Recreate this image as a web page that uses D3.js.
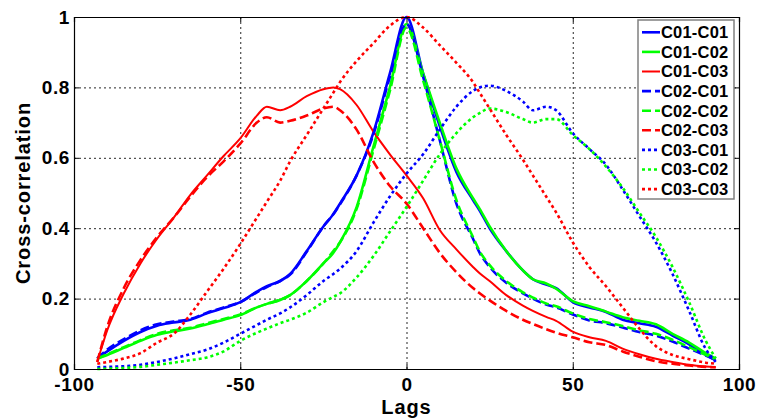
<html>
<head><meta charset="utf-8">
<script src="https://d3js.org/d3.v7.min.js"></script>
</head>
<body style="margin:0;background:#fff">
<style>
  body { font-family: "Liberation Sans", Arial, sans-serif; }
  .tick text { font-weight: bold; font-size: 19px; letter-spacing: 0.6px; fill: #000; }
  .grid line { stroke: #000; stroke-dasharray: 2,3; stroke-opacity: 0.85; }
  .grid path { display: none; }
</style>
<svg width="760" height="420"></svg>
<script>
// lag positions (shared by all series)
var lags = [-93,-90,-85,-80,-75,-70,-65,-60,-55,-50,-45,-42,-38,-35,-30,-25,-22,-20,-15,-10,-5,0,
            5,10,15,20,22,25,30,35,38,42,45,50,55,60,65,70,75,80,85,90,93];

var c01c01 = [0.03,0.05,0.08,0.105,0.123,0.132,0.14,0.158,0.173,0.19,0.22,0.235,0.25,0.27,0.335,0.405,0.44,0.47,0.55,0.67,0.84,1.0,
              0.84,0.69,0.56,0.48,0.45,0.40,0.335,0.28,0.255,0.24,0.23,0.19,0.175,0.162,0.14,0.13,0.12,0.095,0.07,0.04,0.025];
var c01c02 = [0.03,0.04,0.06,0.08,0.097,0.107,0.115,0.127,0.14,0.153,0.175,0.185,0.196,0.21,0.25,0.30,0.33,0.36,0.46,0.63,0.80,0.98,
              0.84,0.70,0.57,0.485,0.455,0.405,0.335,0.28,0.255,0.243,0.228,0.193,0.178,0.163,0.147,0.137,0.127,0.10,0.075,0.045,0.03];
var c01c03 = [0.02,0.11,0.215,0.30,0.37,0.43,0.495,0.55,0.605,0.655,0.72,0.745,0.735,0.745,0.775,0.795,0.80,0.795,0.75,0.675,0.61,0.55,
              0.485,0.395,0.34,0.29,0.272,0.25,0.21,0.18,0.165,0.148,0.137,0.106,0.09,0.08,0.058,0.042,0.029,0.02,0.012,0.007,0.005];
var c02c01 = [0.03,0.055,0.085,0.11,0.127,0.135,0.142,0.16,0.175,0.19,0.218,0.233,0.25,0.268,0.333,0.405,0.44,0.468,0.55,0.665,0.83,0.98,
              0.83,0.65,0.47,0.37,0.33,0.29,0.245,0.215,0.20,0.183,0.175,0.155,0.138,0.13,0.118,0.105,0.095,0.078,0.058,0.038,0.025];
var c02c02 = [0.03,0.042,0.062,0.082,0.10,0.11,0.117,0.13,0.142,0.155,0.175,0.185,0.197,0.21,0.25,0.30,0.335,0.36,0.455,0.62,0.79,0.97,
              0.82,0.65,0.48,0.375,0.335,0.295,0.25,0.218,0.203,0.186,0.178,0.158,0.142,0.133,0.122,0.11,0.10,0.083,0.062,0.04,0.028];
var c02c03 = [0.02,0.12,0.23,0.31,0.375,0.43,0.49,0.545,0.59,0.64,0.70,0.715,0.70,0.705,0.72,0.74,0.745,0.735,0.68,0.59,0.52,0.47,
              0.40,0.33,0.275,0.23,0.215,0.195,0.165,0.14,0.128,0.113,0.103,0.09,0.076,0.068,0.05,0.035,0.022,0.015,0.01,0.006,0.005];
var c03c01 = [0.005,0.006,0.008,0.012,0.02,0.03,0.042,0.055,0.075,0.10,0.125,0.14,0.158,0.175,0.21,0.25,0.27,0.285,0.335,0.415,0.49,0.555,
              0.61,0.68,0.745,0.79,0.80,0.805,0.79,0.76,0.735,0.745,0.735,0.67,0.625,0.58,0.51,0.435,0.36,0.27,0.165,0.057,0.02];
var c03c02 = [0.0,0.001,0.003,0.006,0.012,0.018,0.025,0.033,0.05,0.08,0.103,0.115,0.13,0.14,0.16,0.19,0.205,0.215,0.26,0.32,0.39,0.46,
              0.535,0.61,0.67,0.715,0.727,0.74,0.73,0.71,0.70,0.71,0.71,0.665,0.625,0.575,0.515,0.445,0.375,0.29,0.19,0.08,0.03];
var c03c03 = [0.015,0.02,0.03,0.045,0.075,0.10,0.155,0.22,0.285,0.355,0.43,0.475,0.535,0.59,0.665,0.74,0.785,0.815,0.875,0.925,0.975,1.0,
              0.97,0.92,0.87,0.815,0.785,0.74,0.665,0.595,0.55,0.49,0.445,0.36,0.29,0.235,0.175,0.115,0.065,0.04,0.028,0.018,0.015];

var names = ["C01-C01","C01-C02","C01-C03","C02-C01","C02-C02","C02-C03","C03-C01","C03-C02","C03-C03"];
var values = [c01c01,c01c02,c01c03,c02c01,c02c02,c02c03,c03c01,c03c02,c03c03];
var xTicks = [-100,-50,0,50,100];
var yTicks = [0,0.2,0.4,0.6,0.8,1];

var colors = ["#0000ff","#00ff00","#ff0000"];
var dashes = [null, "9,4", "3,3"];

var mLeft = 74, mRight = 739, mTop = 17, mBottom = 369;

var svg = d3.select("svg");

var x = d3.scaleLinear().domain([-100,100]).range([mLeft,mRight]);
var y = d3.scaleLinear().domain([0,1]).range([mBottom,mTop]);

// grid
svg.append("g").attr("class","grid")
    .attr("transform","translate(0," + mBottom + ")")
    .call(d3.axisBottom(x).tickValues([-50,0,50]).tickSize(-(mBottom-mTop)).tickFormat(""));
svg.append("g").attr("class","grid")
    .attr("transform","translate(" + mLeft + ",0)")
    .call(d3.axisLeft(y).tickValues([0.2,0.4,0.6,0.8]).tickSize(-(mRight-mLeft)).tickFormat(""));

// lines
var line = d3.line()
    .x(function(d) { return x(d[0]); })
    .y(function(d) { return y(d[1]); })
    .curve(d3.curveMonotoneX);

values.forEach(function(v, i) {
    svg.append("path")
        .datum(lags.map(function(l, j) { return [l, v[j]]; }))
        .attr("fill","none")
        .attr("stroke", colors[i % 3])
        .attr("stroke-width", i == 2 ? 2 : 2.6)
        .attr("stroke-dasharray", dashes[Math.floor(i / 3)])
        .attr("d", line);
});

// axes box with inner ticks
svg.append("g").attr("transform","translate(0," + mBottom + ")")
    .call(d3.axisBottom(x).tickValues(xTicks).tickSize(-5).tickPadding(9).tickFormat(function(d) { return String(d); }));
svg.append("g").attr("transform","translate(" + mLeft + ",0)")
    .call(d3.axisLeft(y).tickValues(yTicks).tickSize(-5).tickPadding(4).tickFormat(function(d) { return String(d); }));
svg.append("g").attr("transform","translate(0," + mTop + ")")
    .call(d3.axisTop(x).tickValues(xTicks).tickSize(-5).tickFormat(""));
svg.append("g").attr("transform","translate(" + mRight + ",0)")
    .call(d3.axisRight(y).tickValues(yTicks).tickSize(-5).tickFormat(""));
svg.selectAll(".domain").attr("stroke","#000").attr("stroke-width",1.2);

// axis labels
svg.append("text").attr("x", (mLeft+mRight)/2).attr("y", 414)
    .attr("text-anchor","middle").style("font-weight","bold").style("font-size","20px")
    .style("letter-spacing","0.9px").text("Lags");
svg.append("text").attr("transform","translate(30," + ((mTop+mBottom)/2) + ") rotate(-90)")
    .attr("text-anchor","middle").style("font-weight","bold").style("font-size","20px")
    .style("letter-spacing","0.9px").text("Cross-correlation");

// legend
var lg = svg.append("g");
lg.append("rect").attr("x",638).attr("y",20).attr("width",96).attr("height",179)
    .attr("fill","#fff").attr("stroke","#808080").attr("stroke-width",1.5);
names.forEach(function(n, i) {
    var ly = 32.3 + i * 19.6;
    lg.append("line").attr("x1",642).attr("x2",660).attr("y1",ly).attr("y2",ly)
        .attr("stroke", colors[i % 3])
        .attr("stroke-width", i == 2 ? 2 : 2.6)
        .attr("stroke-dasharray", dashes[Math.floor(i / 3)]);
    lg.append("text").attr("x",661).attr("y",ly).attr("dy","0.36em")
        .style("font-weight","bold").style("font-size","16.5px").style("letter-spacing","0.2px")
        .text(n);
});
</script>
</body>
</html>
